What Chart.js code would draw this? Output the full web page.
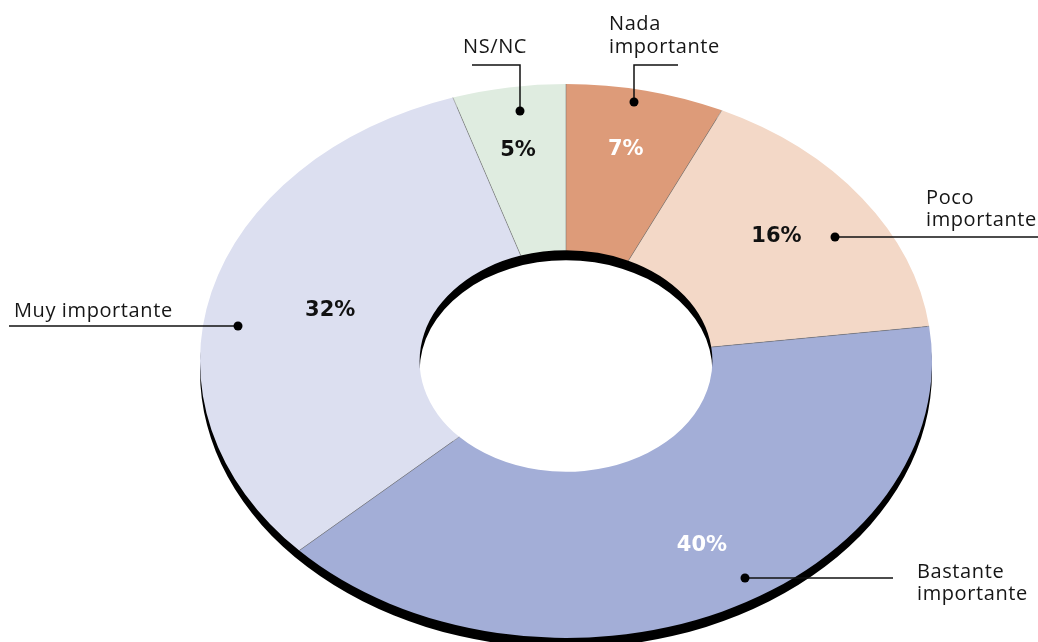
<!DOCTYPE html>
<html>
<head>
<meta charset="utf-8">
<script src="https://cdn.jsdelivr.net/npm/chart.js@4.4.1/dist/chart.umd.min.js"></script>
<style>
    html, body { margin: 0; padding: 0; background: #ffffff; }
    #wrap { width: 1038px; height: 642px; position: relative; overflow: hidden; }
</style>
</head>
<body>
<div id="wrap"><canvas id="myChart" width="1038" height="642"></canvas></div>
<script>
// Datos (en orden horario desde arriba)
var categorias = ["Nada importante", "Poco importante", "Bastante importante", "Muy importante", "NS/NC"];
var porcentajes = [7, 16, 40, 32, 5];
var etiquetas = [["Nada", "importante"], ["Poco", "importante"], ["Bastante", "importante"], ["Muy importante"], ["NS/NC"]];
var colores = ["#dd9b79", "#f3d8c7", "#a3aed7", "#dcdff0", "#dfece0"];
var coloresTexto = ["#ffffff", "#111111", "#ffffff", "#111111", "#111111"];

// étirement horizontal de l'anneau et ombre
var ESTIRAR_X = 1.3213;
var SOMBRA = 10;

// posiciones de los textos dentro de cada porción: [fracción del ángulo, fracción del radio]
var posPct = [[0.48, 0.78], [0.465, 0.73], [0.473, 0.764], [0.513, 0.67], [0.456, 0.77]];
// llamadas: punto en la porción + recorrido de la línea y del texto
var llamadas = [
    { punto: [0.446, 0.953], codoY: 65, finX: 678, textoX: 609, lineasY: [30, 53] },
    { punto: [0.58, 0.86], finX: 1038, textoX: 926, lineasY: [204, 226] },
    { punto: [0.453, 0.923], finX: 893, textoX: 917, lineasY: [578, 600] },
    { punto: [0.445, 0.905], finX: 9, textoX: 14, lineasY: [317] },
    { punto: [0.56, 0.911], codoY: 65, finX: 472, textoX: 463, lineasY: [53] }
];

function puntoArco(arc, cx, cy, fa, fr) {
    var ang = arc.startAngle + fa * (arc.endAngle - arc.startAngle);
    var r = arc.outerRadius * fr;
    return { x: cx + ESTIRAR_X * r * Math.cos(ang), y: cy + r * Math.sin(ang) };
}

var anilloPlugin = {
    id: "anillo",
    beforeDatasetsDraw: function (chart) {
        var ctx = chart.ctx;
        var arcs = chart.getDatasetMeta(0).data;
        var a0 = arcs[0];
        ctx.save();
        ctx.translate(a0.x, a0.y);
        ctx.scale(ESTIRAR_X, 1);
        ctx.translate(-a0.x, -a0.y);
        // ombre noire décalée vers le bas
        ctx.beginPath();
        ctx.arc(a0.x, a0.y + SOMBRA, a0.outerRadius, 0, Math.PI * 2);
        ctx.moveTo(a0.x + a0.innerRadius, a0.y + SOMBRA);
        ctx.arc(a0.x, a0.y + SOMBRA, a0.innerRadius, 0, Math.PI * 2, true);
        ctx.fillStyle = "#000000";
        ctx.fill("evenodd");
    },
    afterDatasetsDraw: function (chart) {
        var ctx = chart.ctx;
        var arcs = chart.getDatasetMeta(0).data;
        // separadores finos entre porciones
        ctx.strokeStyle = "rgba(110,110,110,0.7)";
        ctx.lineWidth = 0.6;
        for (var i = 0; i < arcs.length; i++) {
            var a = arcs[i];
            ctx.beginPath();
            ctx.moveTo(a.x + a.innerRadius * Math.cos(a.startAngle), a.y + a.innerRadius * Math.sin(a.startAngle));
            ctx.lineTo(a.x + a.outerRadius * Math.cos(a.startAngle), a.y + a.outerRadius * Math.sin(a.startAngle));
            ctx.stroke();
        }
        ctx.restore();
    },
    afterDraw: function (chart) {
        var ctx = chart.ctx;
        var arcs = chart.getDatasetMeta(0).data;
        var cx = arcs[0].x;
        var cy = arcs[0].y;
        ctx.save();
        for (var i = 0; i < arcs.length; i++) {
            var a = arcs[i];
            // porcentaje
            var p = puntoArco(a, cx, cy, posPct[i][0], posPct[i][1]);
            ctx.font = "bold 21px 'DejaVu Sans'";
            ctx.letterSpacing = "0px";
            ctx.textAlign = "center";
            ctx.textBaseline = "middle";
            ctx.fillStyle = coloresTexto[i];
            ctx.fillText(porcentajes[i] + "%", p.x, p.y);

            // llamada
            var c = llamadas[i];
            var d = puntoArco(a, cx, cy, c.punto[0], c.punto[1]);
            d.x = Math.round(d.x);
            d.y = Math.round(d.y);
            ctx.strokeStyle = "#111111";
            ctx.lineWidth = 1.5;
            ctx.beginPath();
            ctx.moveTo(d.x, d.y);
            if (c.codoY !== undefined) {
                ctx.lineTo(d.x, c.codoY);
                ctx.lineTo(c.finX, c.codoY);
            } else {
                ctx.lineTo(c.finX, d.y);
            }
            ctx.stroke();
            ctx.fillStyle = "#000000";
            ctx.beginPath();
            ctx.arc(d.x, d.y, 4.5, 0, Math.PI * 2);
            ctx.fill();

            ctx.font = "20px 'Open Sans'";
            ctx.letterSpacing = "0.6px";
            ctx.textAlign = "left";
            ctx.textBaseline = "alphabetic";
            ctx.fillStyle = "#161616";
            for (var j = 0; j < etiquetas[i].length; j++) {
                ctx.fillText(etiquetas[i][j], c.textoX, c.lineasY[j]);
            }
        }
        ctx.restore();
    }
};

var ctx = document.getElementById("myChart").getContext("2d");
var myChart = new Chart(ctx, {
    type: "doughnut",
    data: {
        labels: categorias,
        datasets: [
            {
                data: porcentajes,
                backgroundColor: colores,
                borderWidth: 0,
                hoverOffset: 0
            }
        ]
    },
    options: {
        responsive: false,
        animation: false,
        events: [],
        cutout: "40%",
        layout: {
            padding: { top: 84, bottom: 4, left: 289, right: 195 }
        },
        plugins: {
            legend: { display: false },
            tooltip: { enabled: false }
        }
    },
    plugins: [anilloPlugin]
});
</script>
</body>
</html>
